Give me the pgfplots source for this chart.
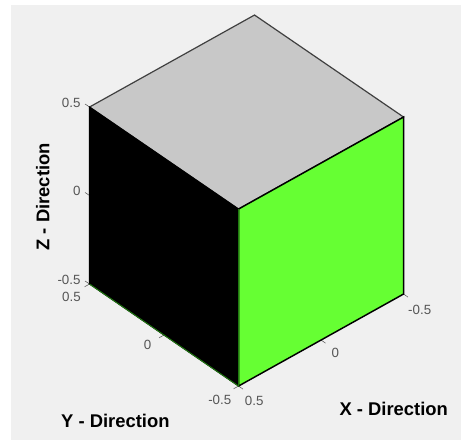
\documentclass[border=0pt]{standalone}
\usepackage{pgfplots}
\usepackage{fontspec}
\setmainfont{Liberation Sans}
\pgfplotsset{compat=1.18}
\definecolor{panel}{HTML}{F0F0F0}
\definecolor{topface}{HTML}{C8C8C8}
\definecolor{sideface}{HTML}{66FF33}
\definecolor{edgegreen}{HTML}{1F7A10}
\definecolor{ticktext}{HTML}{555555}
\begin{document}
\begin{tikzpicture}
    % 1 px of the reference = 0.75pt, y runs downwards from the top left corner
    \fill[white] (0,0) rectangle (345.75pt,-330pt);
    \fill[panel] (8.25pt,-3.75pt) rectangle (345.75pt,-330pt);
    \begin{axis}[
        at={(184.9pt,-150.4pt)},
        anchor=origin,
        x={(-123.75pt,-69pt)},
        y={(-111.75pt,76.5pt)},
        z={(0pt,132.75pt)},
        xmin=-0.5, xmax=0.5,
        ymin=-0.5, ymax=0.5,
        zmin=-0.5, zmax=0.5,
        xtick={-0.5,0,0.5},
        ytick={-0.5,0,0.5},
        ztick={-0.5,0,0.5},
        % the built-in marks also land on the back edges, so they are plotted below
        tick align=outside,
        major tick style={draw=none},
        major tick length=3pt,
        tick label style={font=\fontsize{10}{12}\selectfont, color=ticktext},
        xticklabel style={xshift=4pt, yshift=0.5pt},
        yticklabel style={xshift=-5pt, yshift=2pt},
        zticklabel style={xshift=-0.75pt, yshift=1.2pt},
        /pgf/number format/assume math mode=true,
        axis line style={draw=none},
        grid=none,
        clip=false,
        unbounded coords=jump,
        xlabel={\textbf{X - Direction}},
        ylabel={\textbf{Y - Direction}},
        zlabel={\textbf{Z - Direction}},
        label style={font=\fontsize{13.8}{15}\selectfont, color=black},
        xlabel style={at={(axis cs:0,-0.5,-0.5)}, anchor=center, xshift=54.5pt, yshift=-51.5pt, rotate=0, sloped=false},
        ylabel style={at={(axis cs:0.5,0,-0.5)}, anchor=center, xshift=-36.5pt, yshift=-64.5pt, rotate=0, sloped=false},
        zlabel style={at={(axis cs:0.5,0.5,0)}, anchor=center, xshift=-1pt, yshift=35pt, rotate=0, sloped=false},
    ]
    % tick marks
    \addplot3[draw=ticktext, thin, mark=none] coordinates {
        (-0.5,-0.5,-0.5) (-0.5,-0.53,-0.5) (nan,nan,nan)
        (0,-0.5,-0.5) (0,-0.53,-0.5) (nan,nan,nan)
        (0.5,-0.5,-0.5) (0.5,-0.53,-0.5) (nan,nan,nan)
        (0.5,-0.5,-0.5) (0.53,-0.5,-0.5) (nan,nan,nan)
        (0.5,0,-0.5) (0.53,0,-0.5) (nan,nan,nan)
        (0.5,0.5,-0.5) (0.53,0.5,-0.5) (nan,nan,nan)
        (0.5,0.5,-0.5) (0.5,0.53,-0.5) (nan,nan,nan)
        (0.5,0.5,0) (0.5,0.53,0) (nan,nan,nan)
        (0.5,0.5,0.5) (0.5,0.53,0.5)
    };
    % top face, z = 0.5
    \addplot3[fill=topface, draw=black!75, line width=0.9pt, mark=none] coordinates {
        (0.5,0.5,0.5) (0.5,-0.5,0.5) (-0.5,-0.5,0.5) (-0.5,0.5,0.5) (0.5,0.5,0.5)
    };
    % left face, x = 0.5
    \addplot3[fill=black, draw=black, thick, mark=none] coordinates {
        (0.5,0.5,-0.5) (0.5,-0.5,-0.5) (0.5,-0.5,0.5) (0.5,0.5,0.5) (0.5,0.5,-0.5)
    };
    % right face, y = -0.5
    \addplot3[fill=sideface, draw=black, line width=1.1pt, mark=none] coordinates {
        (0.5,-0.5,-0.5) (-0.5,-0.5,-0.5) (-0.5,-0.5,0.5) (0.5,-0.5,0.5) (0.5,-0.5,-0.5)
    };
    % dark green seams along the black face
    \addplot3[draw=edgegreen, line width=0.7pt, mark=none] coordinates {
        (0.5,0.5,-0.5) (0.5,-0.5,-0.5) (0.5,-0.5,0.5)
    };
    \end{axis}
\end{tikzpicture}
\end{document}
